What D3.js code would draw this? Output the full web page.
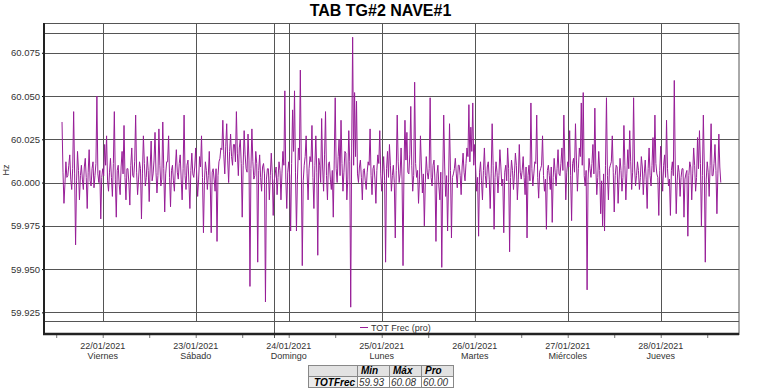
<!DOCTYPE html>
<html>
<head>
<meta charset="utf-8">
<script src="https://cdn.jsdelivr.net/npm/d3@7"></script>
<style>
	body { margin: 0; background: #fff; }
	svg { font-family: "Liberation Sans", Arial, sans-serif; }
</style>
</head>
<body>
<svg id="plot" width="761" height="388"></svg>
<script>

// 15 minute averages of the frequency (Hz), one array per day
const day21 = [60.035, 60.006, 59.988, 59.999, 60.012, 60.003, 60.004, 60.010, 60.016, 60.002, 59.996, 60.008,
	60.041, 60.005, 59.964, 60.001, 60.018, 60.007, 59.990, 60.004, 60.010, 60.002, 59.996, 60.009,
	60.014, 60.003, 59.985, 60.006, 60.019, 60.001, 59.998, 60.008, 60.012, 59.997, 60.004, 60.011,
	60.050, 60.005, 60.000, 60.007, 59.979, 60.003];
const day22 = [60.008, 60.004, 60.022, 60.010, 60.027, 60.001, 59.995, 60.006, 60.014, 60.003, 59.992, 60.011,
	60.041, 60.002, 59.980, 60.007, 60.010, 59.999, 59.993, 60.009, 60.018, 60.005, 60.033, 60.003,
	59.990, 60.008, 60.008, 60.000, 59.987, 60.010, 60.020, 60.004, 60.003, 60.012, 60.039, 60.006,
	59.993, 60.002, 60.012, 60.008, 59.979, 60.005, 60.027, 60.011, 59.998, 60.003, 60.015, 60.007,
	59.989, 60.009, 60.024, 60.001, 60.005, 60.013, 60.029, 60.006, 59.994, 60.004, 60.031, 60.010,
	59.998, 60.002, 60.035, 60.008, 59.983, 60.005, 60.012, 60.012, 60.027, 60.003, 59.986, 60.007,
	60.010, 60.001, 59.995, 60.009, 60.019, 60.006, 60.002, 60.011, 60.016, 60.002, 59.990, 60.008,
	60.039, 60.004, 59.996, 60.010, 60.013, 60.000, 59.985, 60.007, 60.017, 60.005, 60.003, 60.009];
const day23 = [60.020, 60.005, 59.992, 60.002, 60.015, 60.009, 60.027, 60.003, 59.971, 60.001, 60.012, 60.007,
	59.996, 60.004, 60.018, 60.000, 59.971, 60.006, 60.008, 60.002, 59.995, 60.008, 59.966, 60.004,
	60.012, 60.014, 60.020, 60.019, 60.036, 60.016, 60.005, 60.021, 60.034, 60.013, 60.000, 60.018,
	60.028, 60.015, 60.010, 60.022, 60.022, 60.012, 60.041, 60.017, 60.004, 60.020, 60.025, 60.011,
	59.980, 60.010, 60.030, 60.016, 60.008, 60.006, 60.028, 60.013, 59.940, 60.008, 60.031, 60.012,
	60.002, 60.004, 60.018, 60.011, 59.954, 60.007, 60.016, 60.003, 59.995, 60.009, 60.011, 60.005,
	59.931, 60.002, 60.008, 60.008, 59.990, 60.004, 60.017, 60.006, 59.981, 60.001, 60.005, 60.009,
	59.993, 60.003, 60.012, 60.007, 59.990, 60.005, 60.018, 60.010, 60.053, 60.002, 59.985, 60.006];
const day24 = [60.012, 60.004, 59.972, 60.011, 60.042, 60.018, 60.053, 60.006, 59.972, 60.002, 60.020, 60.013,
	60.065, 60.009, 59.952, 60.001, 60.010, 60.015, 60.027, 60.005, 59.990, 60.008, 60.015, 60.012,
	60.033, 60.003, 59.985, 60.010, 60.027, 60.006, 59.958, 60.014, 60.010, 60.000, 60.037, 60.009,
	59.995, 60.016, 60.041, 60.004, 59.990, 60.011, 60.012, 60.002, 59.996, 60.007, 59.980, 60.013,
	60.049, 60.008, 60.000, 60.015, 60.025, 60.004, 60.036, 60.011, 59.995, 60.006, 60.018, 60.017,
	59.990, 60.002, 60.030, 60.012, 59.928, 60.020, 60.084, 60.010, 60.052, 60.015, 60.047, 60.005,
	60.000, 60.009, 60.013, 60.003, 59.990, 60.007, 60.008, 60.001, 59.996, 60.006, 60.012, 60.010,
	60.031, 60.004, 59.993, 60.008, 60.010, 60.002, 59.988, 60.007, 60.016, 60.011, 60.030, 60.005];
const day25 = [59.995, 60.006, 60.015, 60.001, 59.954, 60.008, 60.018, 60.003, 60.022, 60.010, 59.995, 60.004,
	60.010, 60.000, 59.968, 60.007, 60.039, 60.012, 60.000, 60.005, 60.020, 60.002, 59.952, 60.009,
	60.036, 60.013, 60.029, 60.006, 60.005, 60.016, 60.044, 60.010, 59.995, 60.004, 60.058, 60.011,
	60.003, 60.007, 59.988, 60.002, 60.027, 60.009, 59.994, 60.005, 59.975, 60.000, 60.015, 60.006,
	60.002, 60.008, 60.049, 60.003, 59.998, 60.010, 60.013, 60.001, 59.966, 60.005, 60.010, 59.998,
	59.990, 60.006, 59.951, 60.002, 60.039, 60.009, 59.992, 60.004, 59.972, 60.000, 60.034, 60.007,
	59.968, 60.003, 60.005, 60.008, 60.014, 60.005, 59.997, 60.010, 60.010, 60.004, 59.993, 60.009,
	60.017, 60.006, 60.001, 60.011, 60.020, 60.015, 60.045, 60.012, 60.032, 60.018, 60.046, 60.010];
const day26 = [60.022, 60.008, 59.995, 60.003, 59.969, 60.006, 60.012, 60.001, 59.990, 60.007, 60.020, 60.004,
	59.997, 60.009, 60.012, 60.002, 59.985, 60.005, 60.034, 60.010, 59.973, 60.003, 60.012, 60.006,
	59.994, 60.004, 60.019, 60.009, 59.998, 60.002, 59.971, 60.006, 60.010, 60.001, 60.020, 60.008,
	59.960, 60.003, 60.013, 60.007, 59.996, 60.005, 60.017, 60.010, 59.990, 60.002, 60.022, 60.006,
	60.002, 60.007, 60.015, 60.003, 59.993, 60.009, 59.968, 60.004, 60.010, 60.001, 60.046, 60.008,
	59.998, 60.005, 60.012, 60.011, 60.039, 60.003, 59.991, 60.006, 60.008, 60.010, 60.027, 60.004,
	59.995, 60.002, 59.973, 60.007, 60.010, 60.004, 59.996, 60.009, 59.977, 60.003, 60.014, 60.006,
	59.998, 60.008, 60.019, 60.005, 60.004, 60.011, 60.020, 60.007, 60.039, 60.013, 59.990, 60.006];
const day27 = [60.012, 60.009, 60.030, 60.004, 59.978, 60.011, 60.014, 60.006, 60.034, 60.013, 59.995, 60.008,
	60.020, 60.015, 60.046, 60.010, 60.052, 60.004, 59.998, 60.007, 59.938, 60.002, 60.014, 60.008,
	60.003, 60.011, 60.022, 60.005, 60.043, 60.009, 59.993, 60.003, 60.018, 60.007, 59.982, 60.001,
	59.975, 60.005, 59.972, 60.010, 60.049, 60.004, 59.990, 60.008, 60.010, 60.012, 60.027, 60.006,
	59.983, 60.004, 60.010, 60.009, 59.988, 60.002, 60.014, 60.007, 59.995, 60.003, 60.033, 60.010,
	59.990, 60.005, 60.019, 60.008, 60.030, 60.012, 59.996, 60.006, 60.049, 60.009, 59.998, 60.004,
	60.012, 60.007, 59.996, 60.003, 60.015, 60.009, 59.993, 60.005, 60.013, 60.002, 59.985, 60.008,
	60.020, 60.004, 59.998, 60.010, 60.026, 60.006, 60.039, 60.011, 60.005, 60.003, 59.981, 60.007];
const day28 = [60.021, 60.006, 59.995, 60.010, 60.016, 60.003, 60.036, 60.008, 59.998, 60.002, 59.981, 60.007,
	60.012, 60.004, 60.059, 60.009, 59.982, 60.001, 60.010, 60.006, 59.992, 60.003, 60.008, 60.008,
	59.980, 60.002, 60.005, 60.007, 59.969, 60.004, 60.012, 60.009, 59.990, 60.005, 60.020, 60.010,
	59.995, 60.003, 60.026, 60.008, 60.030, 60.011, 59.975, 60.004, 60.039, 60.009, 59.954, 60.002,
	60.012, 60.006, 59.992, 60.010, 60.034, 60.004, 60.004, 60.011, 60.022, 60.007, 59.982, 60.005,
	60.028, 60.009, 60.000];

const SERIES_START = new Date(2021, 0, 21, 13, 30);
const STEP_MINUTES = 15;

const DAYS = [new Date(2021, 0, 22), new Date(2021, 0, 23), new Date(2021, 0, 24), new Date(2021, 0, 25),
	new Date(2021, 0, 26), new Date(2021, 0, 27), new Date(2021, 0, 28)];
const DAY_LABELS = ['22/01/2021', '23/01/2021', '24/01/2021', '25/01/2021', '26/01/2021', '27/01/2021', '28/01/2021'];
const DAY_NAMES = ['Viernes', 'Sábado', 'Domingo', 'Lunes', 'Martes', 'Miércoles', 'Jueves'];
const Y_TICKS = [59.925, 59.950, 59.975, 60.000, 60.025, 60.050, 60.075];
const MARKER_TIME = new Date(2021, 0, 23, 20, 17);

const TABLE_COLUMNS = ['Min', 'Máx', 'Pro'];
const TABLE_ROW = 'TOTFrec';
const TABLE_VALUES = ['59.93', '60.08', '60.00'];

const TITLE = 'TAB TG#2 NAVE#1';
const SERIES_NAME = 'TOT Frec (pro)';

const values = [].concat(day21, day22, day23, day24, day25, day26, day27, day28);
const data = values.map((v, i) => ({
	t: new Date(SERIES_START.getTime() + i * STEP_MINUTES * 60000),
	v: v
}));

const LEFT = 44, RIGHT = 739, TOP = 23, BOTTOM = 334;
const GRID_COLOR = '#555';
const LINE_COLOR = '#971d97';

function draw() {
	var svg = d3.select('#plot');

	var x = d3.scaleTime()
		.domain([new Date(2021, 0, 21, 8, 51), new Date(2021, 0, 28, 20, 12)])
		.range([LEFT, RIGHT]);
	var y = d3.scaleLinear()
		.domain([59.9125, 60.0922])
		.range([BOTTOM, TOP]);

	// title
	svg.append('text')
		.attr('x', 380.5).attr('y', 15.5)
		.attr('text-anchor', 'middle')
		.style('font-size', '16px').style('font-weight', 'bold')
		.text(TITLE);

	// frame
	var frame = svg.append('g').attr('stroke', GRID_COLOR).attr('stroke-width', 1).attr('fill', 'none');
	frame.append('rect').attr('x', LEFT).attr('y', TOP + 0.5).attr('width', RIGHT - LEFT).attr('height', BOTTOM - TOP);
	frame.append('line').attr('x1', LEFT).attr('x2', RIGHT).attr('y1', TOP + 10.5).attr('y2', TOP + 10.5);
	frame.append('line').attr('x1', LEFT).attr('x2', RIGHT).attr('y1', BOTTOM - 12.5).attr('y2', BOTTOM - 12.5);

	// horizontal grid
	svg.append('g')
		.selectAll('line')
		.data(Y_TICKS)
		.enter()
		.append('line')
			.attr('x1', LEFT).attr('x2', RIGHT)
			.attr('y1', d => Math.round(y(d)) + 0.5).attr('y2', d => Math.round(y(d)) + 0.5)
			.attr('stroke', GRID_COLOR);

	// vertical grid on each day
	svg.append('g')
		.selectAll('line')
		.data(DAYS)
		.enter()
		.append('line')
			.attr('x1', d => Math.round(x(d)) + 0.5).attr('x2', d => Math.round(x(d)) + 0.5)
			.attr('y1', TOP).attr('y2', BOTTOM - 13)
			.attr('stroke', GRID_COLOR);

	svg.append('line')
		.attr('x1', Math.round(x(MARKER_TIME)) + 0.5).attr('x2', Math.round(x(MARKER_TIME)) + 0.5)
		.attr('y1', TOP).attr('y2', BOTTOM + 4)
		.attr('stroke', GRID_COLOR);

	// series
	var line = d3.line()
		.x(d => x(d.t))
		.y(d => y(d.v));
	svg.append('path')
		.datum(data)
		.attr('d', line)
		.attr('fill', 'none')
		.attr('stroke', LINE_COLOR)
		.attr('stroke-width', 1);

	// legend
	var lg = svg.append('g').attr('transform', 'translate(360, 327)');
	lg.append('line').attr('x1', 0).attr('x2', 8).attr('y1', 0.5).attr('y2', 0.5).attr('stroke', LINE_COLOR);
	lg.append('text').attr('x', 11).attr('y', 3.5).style('font-size', '9px').attr('fill', '#333').text(SERIES_NAME);

	// y axis
	var yAxis = svg.append('g')
		.attr('transform', `translate(${LEFT}, 0)`)
		.call(d3.axisLeft(y).tickValues(Y_TICKS).tickFormat(d3.format('.3f')).tickSize(2).tickPadding(2));
	yAxis.select('.domain').remove();
	yAxis.selectAll('text').style('font-size', '9.5px').attr('fill', '#333')
		.style('font-family', '"Liberation Sans", Arial, sans-serif');
	svg.append('line')
		.attr('x1', LEFT).attr('x2', LEFT).attr('y1', TOP).attr('y2', BOTTOM + 1)
		.attr('stroke', '#222').attr('stroke-width', 2);

	svg.append('text')
		.attr('transform', 'translate(9, 170) rotate(-90)')
		.attr('text-anchor', 'middle')
		.style('font-size', '9px').attr('fill', '#333')
		.text('Hz');

	// x axis
	var halfDays = d3.timeHour.every(12).range(x.domain()[0], x.domain()[1]);
	var xAxis = svg.append('g')
		.attr('transform', `translate(0, ${BOTTOM})`)
		.call(d3.axisBottom(x).tickValues(halfDays).tickFormat('').tickSize(4));
	xAxis.select('.domain').remove();
	xAxis.selectAll('line').attr('stroke', '#777');
	svg.append('line')
		.attr('x1', LEFT - 1).attr('x2', RIGHT).attr('y1', BOTTOM).attr('y2', BOTTOM)
		.attr('stroke', '#222').attr('stroke-width', 2.5);

	var dayText = svg.append('g')
		.selectAll('text')
		.data(DAYS)
		.enter()
		.append('text')
			.attr('text-anchor', 'middle')
			.attr('transform', d => `translate(${x(d)}, 349)`)
			.style('font-size', '9px').attr('fill', '#333');
	dayText.append('tspan').attr('x', 0).attr('y', 0).text((d, i) => DAY_LABELS[i]);
	dayText.append('tspan').attr('x', 0).attr('y', 10).text((d, i) => DAY_NAMES[i]);

	// stats table
	var colX = [308, 357, 389, 421, 453];
	var rowY = [365, 376, 387];
	var tbl = svg.append('g');
	tbl.append('rect').attr('x', colX[0]).attr('y', rowY[0]).attr('width', colX[4] - colX[0]).attr('height', rowY[1] - rowY[0])
		.attr('fill', '#e2e2e2');
	tbl.append('rect').attr('x', colX[0]).attr('y', rowY[1]).attr('width', colX[1] - colX[0]).attr('height', rowY[2] - rowY[1])
		.attr('fill', '#ececec');
	tbl.append('rect').attr('x', colX[0] + 0.5).attr('y', rowY[0] + 0.5).attr('width', colX[4] - colX[0]).attr('height', rowY[2] - rowY[0])
		.attr('fill', 'none').attr('stroke', '#888');
	tbl.append('line').attr('x1', colX[0]).attr('x2', colX[4]).attr('y1', rowY[1] + 0.5).attr('y2', rowY[1] + 0.5).attr('stroke', '#888');
	tbl.selectAll('.sep')
		.data(colX.slice(1, 4))
		.enter()
		.append('line')
			.attr('x1', d => d + 0.5).attr('x2', d => d + 0.5)
			.attr('y1', rowY[0]).attr('y2', rowY[2])
			.attr('stroke', '#888');
	tbl.selectAll('.head')
		.data(TABLE_COLUMNS)
		.enter()
		.append('text')
			.attr('x', (d, i) => colX[i + 1] + 4).attr('y', rowY[0] + 9)
			.style('font-size', '10px').style('font-weight', 'bold').style('font-style', 'italic')
			.text(d => d);
	tbl.append('text')
		.attr('x', colX[1] - 2).attr('y', rowY[1] + 9.5)
		.attr('text-anchor', 'end')
		.style('font-size', '10px').style('font-weight', 'bold').style('font-style', 'italic')
		.text(TABLE_ROW);
	tbl.selectAll('.val')
		.data(TABLE_VALUES)
		.enter()
		.append('text')
			.attr('x', (d, i) => colX[i + 1] + 2).attr('y', rowY[1] + 9.5)
			.style('font-size', '10px').style('font-style', 'italic').attr('fill', '#333')
			.text(d => d);
}

draw();
</script>
</body>
</html>
